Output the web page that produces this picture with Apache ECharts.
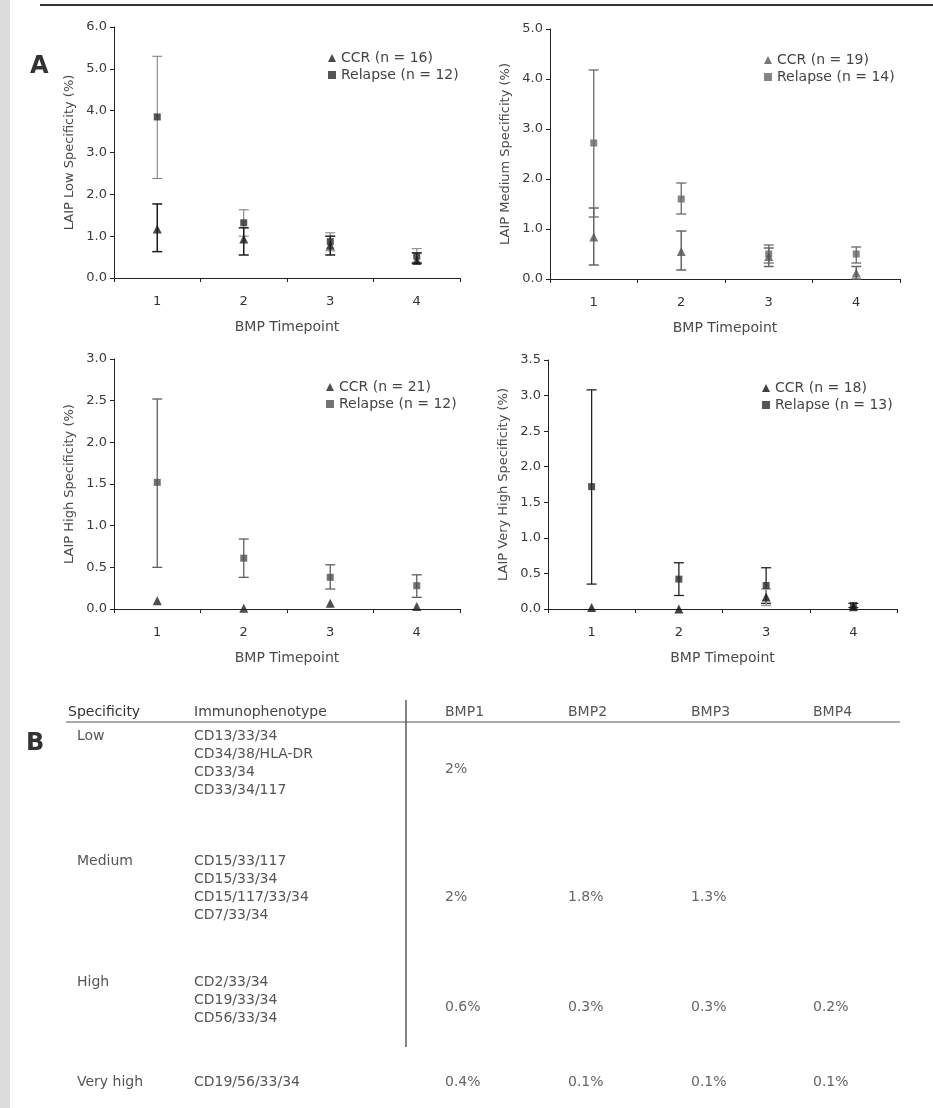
<!DOCTYPE html>
<html><head><meta charset="utf-8">
<script src="https://cdn.jsdelivr.net/npm/echarts@6/dist/echarts.min.js"></script>
<style>html,body{margin:0;padding:0;background:#fff;}#c{width:933px;height:1108px;}</style>
</head><body><div id="c"></div>
<script>
const timepoints = ['1', '2', '3', '4'];

// Panel: Low specificity
const lowCcrMean = [1.17, 0.93, 0.78, 0.42];
const lowCcrLo = [0.63, 0.55, 0.55, 0.35];
const lowCcrHi = [1.77, 1.20, 1.00, 0.60];
const lowRelMean = [3.85, 1.32, 0.87, 0.52];
const lowRelLo = [2.38, 1.00, 0.65, 0.38];
const lowRelHi = [5.30, 1.63, 1.08, 0.70];

// Panel: Medium specificity
const medCcrMean = [0.84, 0.55, 0.45, 0.12];
const medCcrLo = [0.28, 0.18, 0.25, 0.00];
const medCcrHi = [1.42, 0.96, 0.62, 0.25];
const medRelMean = [2.72, 1.60, 0.50, 0.50];
const medRelLo = [1.24, 1.30, 0.32, 0.32];
const medRelHi = [4.18, 1.92, 0.68, 0.64];

// Panel: High specificity
const highCcrMean = [0.10, 0.01, 0.07, 0.03];
const highCcrLo = [null, null, null, null];
const highCcrHi = [null, null, null, null];
const highRelMean = [1.52, 0.61, 0.38, 0.28];
const highRelLo = [0.50, 0.38, 0.24, 0.14];
const highRelHi = [2.52, 0.84, 0.53, 0.41];

// Panel: Very high specificity
const vhCcrMean = [0.02, 0.00, 0.17, 0.03];
const vhCcrLo = [null, null, 0.05, null];
const vhCcrHi = [null, null, 0.28, null];
const vhRelMean = [1.72, 0.42, 0.33, 0.05];
const vhRelLo = [0.35, 0.19, 0.08, 0.02];
const vhRelHi = [3.08, 0.65, 0.58, 0.08];

const yAxisNames = ['LAIP Low Specificity (%)', 'LAIP Medium Specificity (%)', 'LAIP High Specificity (%)', 'LAIP Very High Specificity (%)'];
const yMax = [6, 5, 3, 3.5];
const yInterval = [1, 1, 0.5, 0.5];
const ccrNames = ['CCR (n = 16)', 'CCR (n = 19)', 'CCR (n = 21)', 'CCR (n = 18)'];
const relNames = ['Relapse (n = 12)', 'Relapse (n = 14)', 'Relapse (n = 12) ', 'Relapse (n = 13)'];
const xAxisName = 'BMP Timepoint';

// Table (panel B)
const tableHeaders = ['Specificity', 'Immunophenotype'];
const bmpHeaders = ['BMP1', 'BMP2', 'BMP3', 'BMP4'];
const specificity = ['Low', 'Medium', 'High', 'Very high'];
const immunophenotypes = [
  ['CD13/33/34', 'CD34/38/HLA-DR', 'CD33/34', 'CD33/34/117'],
  ['CD15/33/117', 'CD15/33/34', 'CD15/117/33/34', 'CD7/33/34'],
  ['CD2/33/34', 'CD19/33/34', 'CD56/33/34'],
  ['CD19/56/33/34']
];
const bmpValues = [
  ['2%', '', '', ''],
  ['2%', '1.8%', '1.3%', ''],
  ['0.6%', '0.3%', '0.3%', '0.2%'],
  ['0.4%', '0.1%', '0.1%', '0.1%']
];

const panels = [
  {ccr: [lowCcrMean, lowCcrLo, lowCcrHi], rel: [lowRelMean, lowRelLo, lowRelHi]},
  {ccr: [medCcrMean, medCcrLo, medCcrHi], rel: [medRelMean, medRelLo, medRelHi]},
  {ccr: [highCcrMean, highCcrLo, highCcrHi], rel: [highRelMean, highRelLo, highRelHi]},
  {ccr: [vhCcrMean, vhCcrLo, vhCcrHi], rel: [vhRelMean, vhRelLo, vhRelHi]}
];

// layout & style
const FONT = "'DejaVu Sans', 'Liberation Sans', Arial, sans-serif";
const TXT = '#4a4a4a';
const grids = [
  {left: 114, top: 27, width: 346, height: 251},
  {left: 550, top: 29, width: 350, height: 250},
  {left: 114, top: 359, width: 346, height: 250},
  {left: 548, top: 360, width: 349, height: 249}
];
const legendPos = [
  {left: 323, top: 46}, {left: 759, top: 48}, {left: 321, top: 375}, {left: 757, top: 376}
];
const colors = [
  {ccr: '#1c1c1c', rel: '#2a2a2a', ccrErr: '#1c1c1c', relErr: '#7a7a7a'},
  {ccr: '#555', rel: '#666', ccrErr: '#666', relErr: '#6a6a6a'},
  {ccr: '#222', rel: '#505050', ccrErr: '#333', relErr: '#606060'},
  {ccr: '#111', rel: '#2a2a2a', ccrErr: '#999', relErr: '#222'}
];

function errData(lo, hi) {
  const out = [];
  lo.forEach((l, i) => { if (l !== null && hi[i] !== null) out.push([i, l, hi[i]]); });
  return out;
}
function errRender(color, lw) {
  return function (params, api) {
    const x = api.value(0);
    const p1 = api.coord([x, api.value(1)]);
    const p2 = api.coord([x, api.value(2)]);
    const hw = 5;
    const st = {stroke: color, lineWidth: lw};
    return {type: 'group', children: [
      {type: 'line', shape: {x1: p1[0], y1: p1[1], x2: p2[0], y2: p2[1]}, style: st},
      {type: 'line', shape: {x1: p1[0] - hw, y1: p1[1], x2: p1[0] + hw, y2: p1[1]}, style: st},
      {type: 'line', shape: {x1: p2[0] - hw, y1: p2[1], x2: p2[0] + hw, y2: p2[1]}, style: st}
    ]};
  };
}

const xAxes = [], yAxes = [], series = [], legends = [];
panels.forEach((p, k) => {
  xAxes.push({
    type: 'category', gridIndex: k, data: timepoints, boundaryGap: true,
    name: xAxisName, nameLocation: 'middle', nameGap: 42,
    nameTextStyle: {fontFamily: FONT, fontSize: 14, color: TXT},
    axisLine: {lineStyle: {color: '#222', width: 1.2}},
    axisTick: {show: true, length: 4, lineStyle: {color: '#222'}},
    axisLabel: {fontFamily: FONT, fontSize: 13, color: '#333', margin: 17}
  });
  yAxes.push({
    type: 'value', gridIndex: k, min: 0, max: yMax[k], interval: yInterval[k],
    name: yAxisNames[k], nameLocation: 'middle', nameGap: 38, nameRotate: 90,
    nameTextStyle: {fontFamily: FONT, fontSize: 13, color: TXT},
    axisLine: {show: true, lineStyle: {color: '#222', width: 1}},
    axisTick: {show: true, length: 4, lineStyle: {color: '#222'}},
    splitLine: {show: false},
    axisLabel: {fontFamily: FONT, fontSize: 13, color: '#3a3a3a', margin: 7, formatter: v => v.toFixed(1)}
  });
  const c = colors[k];
  series.push({
    type: 'custom', xAxisIndex: k, yAxisIndex: k, name: 'relErr' + k,
    renderItem: errRender(c.relErr, k === 0 ? 1 : 1.3), data: errData(p.rel[1], p.rel[2]),
    encode: {x: 0, y: [1, 2]}, z: 2, silent: true
  });
  series.push({
    type: 'custom', xAxisIndex: k, yAxisIndex: k, name: 'ccrErr' + k,
    renderItem: errRender(c.ccrErr, 1.5), data: errData(p.ccr[1], p.ccr[2]),
    encode: {x: 0, y: [1, 2]}, z: 2, silent: true
  });
  series.push({
    type: 'scatter', xAxisIndex: k, yAxisIndex: k, name: relNames[k],
    symbol: 'rect', symbolSize: 7, itemStyle: {color: c.rel},
    data: p.rel[0].map((v, i) => [i, v]), z: 3
  });
  series.push({
    type: 'scatter', xAxisIndex: k, yAxisIndex: k, name: ccrNames[k],
    symbol: 'triangle', symbolSize: 9, itemStyle: {color: c.ccr},
    data: p.ccr[0].map((v, i) => [i, v]), z: 4
  });
  legends.push({
    orient: 'vertical', left: legendPos[k].left, top: legendPos[k].top,
    itemWidth: 8, itemHeight: 8, itemGap: 3, selectedMode: false,
    textStyle: {fontFamily: FONT, fontSize: 14, color: '#444'},
    data: [{name: ccrNames[k], icon: 'triangle'}, {name: relNames[k], icon: 'rect'}]
  });
});

// graphic: panel letters, frame marks, table
const g = [];
g.push({type: 'rect', left: 0, top: 0, shape: {width: 10, height: 1108}, style: {fill: '#dcdcdc'}, silent: true});
g.push({type: 'line', shape: {x1: 40, y1: 5, x2: 933, y2: 5}, style: {stroke: '#333', lineWidth: 2}, silent: true});
g.push({type: 'text', left: 30, top: 55, style: {text: 'A', font: 'bold 24px ' + FONT, fill: '#333'}});
g.push({type: 'text', left: 26, top: 732, style: {text: 'B', font: 'bold 24px ' + FONT, fill: '#333'}});

const tFont = '14px ' + FONT;
const colX = [68, 194];
const bmpX = [445, 568, 691, 813];
const headerY = 705;
g.push({type: 'text', x: colX[0], y: headerY, style: {text: tableHeaders[0], font: tFont, fill: '#333'}});
g.push({type: 'text', x: colX[1], y: headerY, style: {text: tableHeaders[1], font: tFont, fill: '#444'}});
bmpHeaders.forEach((h, j) => g.push({type: 'text', x: bmpX[j], y: headerY, style: {text: h, font: tFont, fill: '#555'}}));
g.push({type: 'line', shape: {x1: 66, y1: 722, x2: 900, y2: 722}, style: {stroke: '#555', lineWidth: 1}});
g.push({type: 'line', shape: {x1: 406, y1: 700, x2: 406, y2: 1047}, style: {stroke: '#333', lineWidth: 1.2}});

const rowTop = [729, 854, 975, 1075];
const valY = [762, 890, 1000, 1075];
const lineH = 18;
specificity.forEach((s, r) => {
  g.push({type: 'text', x: 77, y: rowTop[r], style: {text: s, font: tFont, fill: '#555'}});
  immunophenotypes[r].forEach((ip, m) => {
    g.push({type: 'text', x: colX[1], y: rowTop[r] + m * lineH, style: {text: ip, font: tFont, fill: '#555'}});
  });
  bmpValues[r].forEach((v, j) => {
    if (v) g.push({type: 'text', x: bmpX[j], y: valY[r], style: {text: v, font: tFont, fill: '#666'}});
  });
});

const chart = echarts.init(document.getElementById('c'), null, {renderer: 'canvas'});
chart.setOption({
  backgroundColor: '#fff',
  animation: false,
  grid: grids.map(gr => Object.assign({containLabel: false}, gr)),
  xAxis: xAxes, yAxis: yAxes, series: series, legend: legends, graphic: g
});
</script></body></html>
